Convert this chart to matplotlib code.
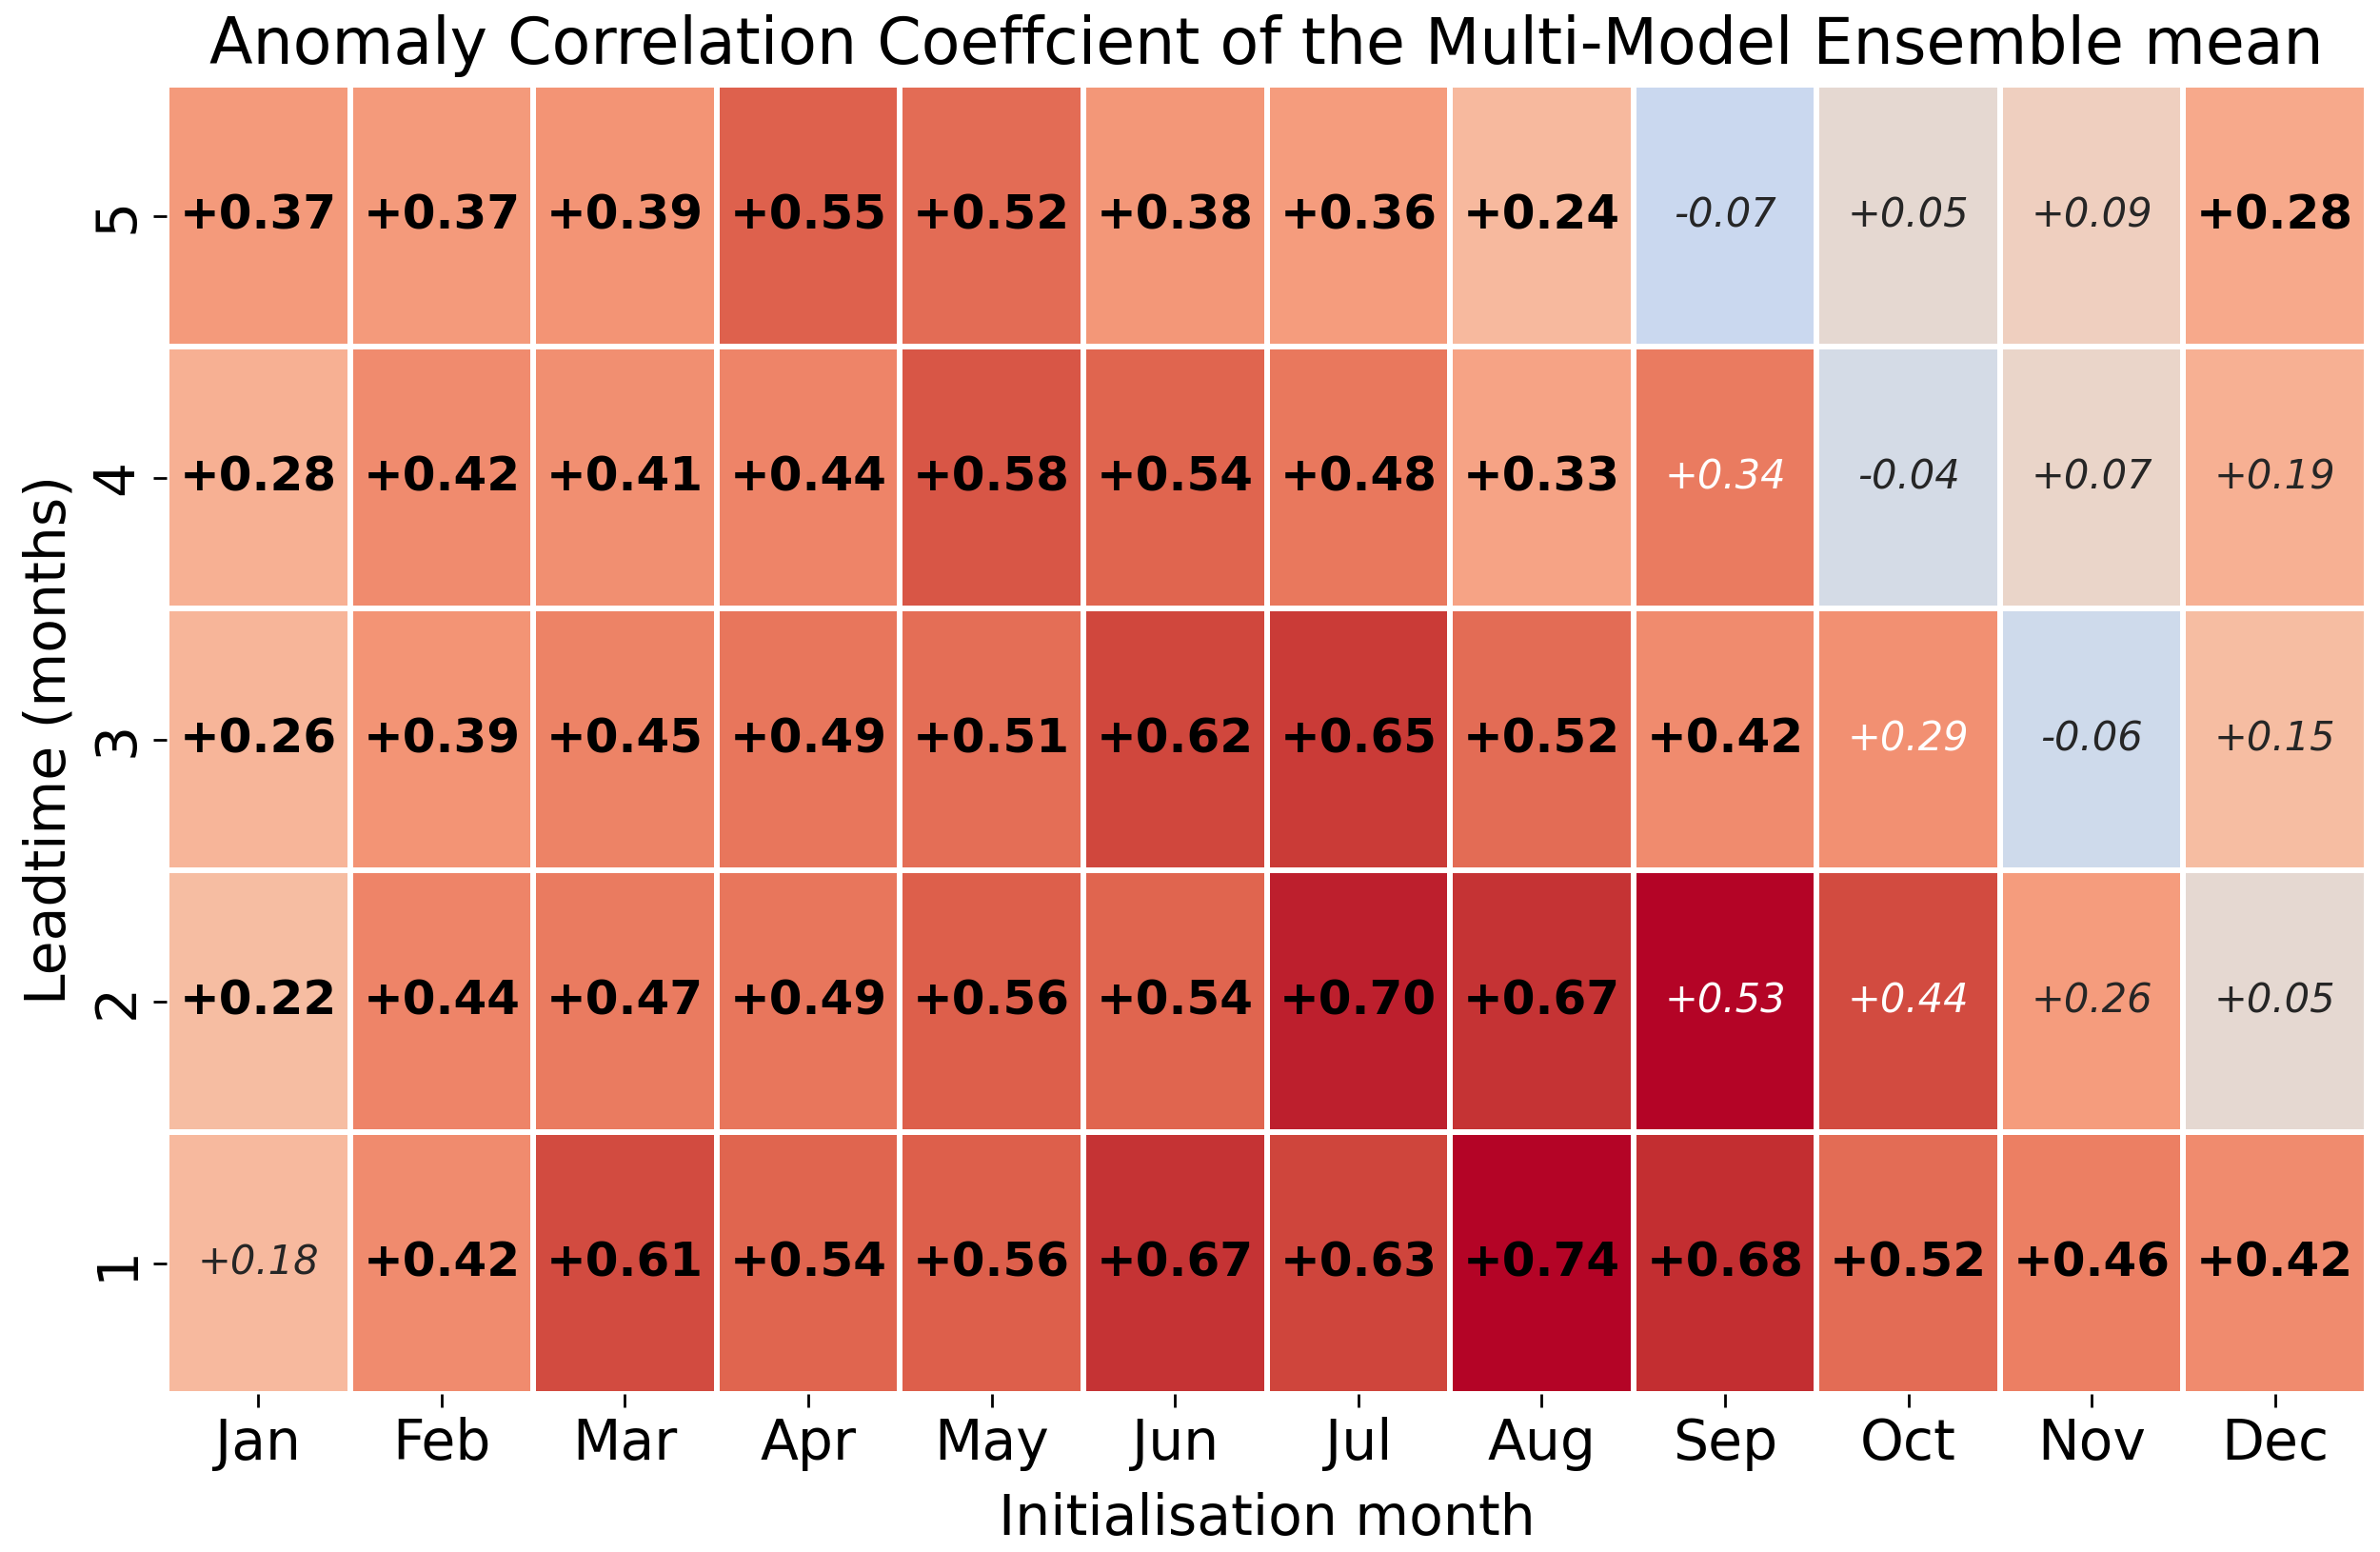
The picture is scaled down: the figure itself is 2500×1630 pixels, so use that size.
import numpy as np
import matplotlib
matplotlib.use("Agg")
import matplotlib.pyplot as plt
import matplotlib.colors as mcolors

months = ["Jan", "Feb", "Mar", "Apr", "May", "Jun", "Jul", "Aug", "Sep", "Oct", "Nov", "Dec"]
leadtimes = ["5", "4", "3", "2", "1"]

# Annotated anomaly correlation coefficients (rows: leadtime 5 -> 1)
acc = np.array([
    [0.37, 0.37, 0.39, 0.55, 0.52, 0.38, 0.36, 0.24, -0.07, 0.05, 0.09, 0.28],
    [0.28, 0.42, 0.41, 0.44, 0.58, 0.54, 0.48, 0.33, 0.34, -0.04, 0.07, 0.19],
    [0.26, 0.39, 0.45, 0.49, 0.51, 0.62, 0.65, 0.52, 0.42, 0.29, -0.06, 0.15],
    [0.22, 0.44, 0.47, 0.49, 0.56, 0.54, 0.70, 0.67, 0.53, 0.44, 0.26, 0.05],
    [0.18, 0.42, 0.61, 0.54, 0.56, 0.67, 0.63, 0.74, 0.68, 0.52, 0.46, 0.42],
])

# Cell shading values
shade = np.array([
    [0.37, 0.37, 0.39, 0.55, 0.52, 0.38, 0.36, 0.24, -0.10, 0.05, 0.12, 0.31],
    [0.28, 0.42, 0.41, 0.44, 0.58, 0.54, 0.48, 0.33, 0.47, -0.05, 0.08, 0.28],
    [0.26, 0.39, 0.45, 0.49, 0.51, 0.62, 0.65, 0.52, 0.42, 0.40, -0.08, 0.22],
    [0.22, 0.44, 0.47, 0.49, 0.56, 0.54, 0.70, 0.67, 0.74, 0.61, 0.36, 0.05],
    [0.24, 0.42, 0.61, 0.54, 0.56, 0.67, 0.63, 0.74, 0.68, 0.52, 0.46, 0.42],
])

# Significant values (bold)
significant = np.array([
    [1, 1, 1, 1, 1, 1, 1, 1, 0, 0, 0, 1],
    [1, 1, 1, 1, 1, 1, 1, 1, 0, 0, 0, 0],
    [1, 1, 1, 1, 1, 1, 1, 1, 1, 0, 0, 0],
    [1, 1, 1, 1, 1, 1, 1, 1, 0, 0, 0, 0],
    [0, 1, 1, 1, 1, 1, 1, 1, 1, 1, 1, 1],
], dtype=bool)

fig = plt.figure(figsize=(12.5, 8.15), dpi=200)
ax = fig.add_axes([0.07, 0.1018, 0.9244, 0.8436])

vmax = 0.74
cmap = plt.get_cmap("coolwarm")
norm = mcolors.Normalize(vmin=-vmax, vmax=vmax)
nr, nc = acc.shape
ax.pcolormesh(np.arange(nc + 1), np.arange(nr + 1), shade, cmap=cmap, norm=norm,
              edgecolors="white", linewidth=1.6)
ax.set_xlim(0, nc)
ax.set_ylim(nr, 0)

for i in range(nr):
    for j in range(nc):
        txt = f"{acc[i, j]:+.2f}"
        if significant[i, j]:
            ax.text(j + 0.5, i + 0.5, txt, ha="center", va="center",
                    fontsize=18, fontweight="bold", color="black")
        else:
            rgb = mcolors.to_rgb(cmap(norm(shade[i, j])))
            lum = 0.2126 * rgb[0] ** 2.2 + 0.7152 * rgb[1] ** 2.2 + 0.0722 * rgb[2] ** 2.2
            col = "#262626" if lum > 0.408 else "white"
            ax.text(j + 0.5, i + 0.5, txt, ha="center", va="center",
                    fontsize=15, fontstyle="italic", color=col)

ax.set_xticks(np.arange(nc) + 0.5)
ax.set_xticklabels(months, fontsize=21)
ax.set_yticks(np.arange(nr) + 0.5)
ax.set_yticklabels(leadtimes, fontsize=21, rotation=90, va="center")
ax.tick_params(length=5, width=1)
for s in ax.spines.values():
    s.set_visible(False)
ax.set_xlabel("Initialisation month", fontsize=21, labelpad=8)
ax.set_ylabel("Leadtime (months)", fontsize=21, labelpad=5)
ax.set_title("Anomaly Correlation Coeffcient of the Multi-Model Ensemble mean",
             fontsize=24, pad=8)

fig.savefig("out.png", dpi=200)
